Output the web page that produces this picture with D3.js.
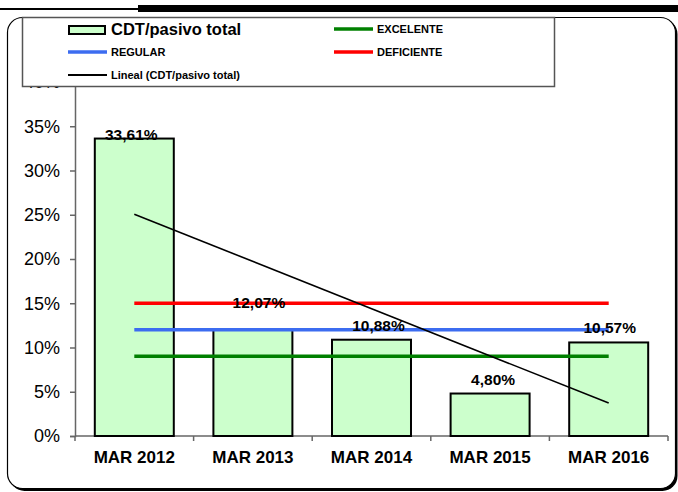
<!DOCTYPE html>
<meta charset="utf-8">
<script src="https://d3js.org/d3.v7.min.js"></script>
<style>
body { margin: 0; background: #fff; }
text { font-family: "Liberation Sans", Arial, sans-serif; fill: #000; }
</style>
<div id="chart"></div>
<script>
// data
var categories = ["MAR 2012", "MAR 2013", "MAR 2014", "MAR 2015", "MAR 2016"];
var ratio = [33.61, 12.07, 10.88, 4.80, 10.57];          // CDT/pasivo total (%)
var excelente = [9, 9, 9, 9, 9];
var regular = [12, 12, 12, 12, 12];
var deficiente = [15, 15, 15, 15, 15];
var trendEnds = [25.06, 3.72];                            // Lineal (CDT/pasivo total), first and last category
var yTicks = [0, 5, 10, 15, 20, 25, 30, 35, 40];
var labelNudge = [[-3, 10], [6, -12], [7, 0], [3, 0], [1, 0]];

var W = 678, H = 492;
var svg = d3.select("#chart").append("svg")
  .attr("width", W).attr("height", H);

// page rules at the top
svg.append("rect").attr("x", 0).attr("y", 8).attr("width", 138).attr("height", 2).attr("fill", "#000");
svg.append("rect").attr("x", 138).attr("y", 5).attr("width", W - 138).attr("height", 7).attr("fill", "#000");

// chart frame with a little shadow
svg.append("rect").attr("x", 9.5).attr("y", 19).attr("width", 668).attr("height", 472)
  .attr("rx", 15).attr("fill", "#000");
svg.append("rect").attr("x", 7.5).attr("y", 17.5).attr("width", 668).attr("height", 471)
  .attr("rx", 15).attr("fill", "#fff").attr("stroke", "#000").attr("stroke-width", 1.2);

var x = d3.scaleBand().domain(categories).range([75, 668])
  .paddingInner(0.334).paddingOuter(0.167);
var y = d3.scaleLinear().domain([0, 40]).range([436, 82]);
var cx = function(i) { return x(categories[i]) + x.bandwidth() / 2; };

// y axis
var yAxis = svg.append("g").attr("transform", "translate(75,0)")
  .call(d3.axisLeft(y).tickValues(yTicks).tickSize(5).tickPadding(10)
    .tickFormat(function(d) { return d + "%"; }));
yAxis.selectAll("text").style("font-size", "18px");
yAxis.select(".domain").attr("stroke", "#666").attr("stroke-width", 1.5);
yAxis.selectAll(".tick line").attr("stroke", "#666").attr("stroke-width", 1.5);

// x axis, ticks on category boundaries
var xAxisG = svg.append("g").attr("transform", "translate(0,436)");
xAxisG.append("line").attr("x1", 75).attr("x2", 668).attr("stroke", "#666").attr("stroke-width", 1.5);
var bounds = categories.map(function(c) { return x(c) - x.step() * 0.167; }).concat([668]);
xAxisG.selectAll(".xt").data(bounds).enter().append("line")
  .attr("x1", function(d) { return d; }).attr("x2", function(d) { return d; })
  .attr("y1", 0).attr("y2", 5).attr("stroke", "#666").attr("stroke-width", 1.5);
xAxisG.selectAll(".xl").data(categories).enter().append("text")
  .attr("x", function(d) { return x(d) + x.bandwidth() / 2; })
  .attr("y", 27).attr("text-anchor", "middle")
  .style("font-size", "17px").style("font-weight", "bold")
  .text(function(d) { return d; });

// bars
svg.selectAll(".bar").data(ratio).enter().append("rect")
  .attr("x", function(d, i) { return x(categories[i]); })
  .attr("y", function(d) { return y(d); })
  .attr("width", x.bandwidth())
  .attr("height", function(d) { return y(0) - y(d); })
  .attr("fill", "#ccffcc").attr("stroke", "#000").attr("stroke-width", 2);

// reference lines
var line = d3.line().x(function(d, i) { return cx(i); }).y(function(d) { return y(d); });
[[excelente, "#008000"], [regular, "#3c6cf0"], [deficiente, "#ff0000"]].forEach(function(s) {
  svg.append("path").attr("d", line(s[0])).attr("fill", "none")
    .attr("stroke", s[1]).attr("stroke-width", 3.5);
});

// linear trend
svg.append("line")
  .attr("x1", cx(0)).attr("y1", y(trendEnds[0]))
  .attr("x2", cx(categories.length - 1)).attr("y2", y(trendEnds[1]))
  .attr("stroke", "#000").attr("stroke-width", 1.6);

// data labels
svg.selectAll(".lbl").data(ratio).enter().append("text")
  .attr("x", function(d, i) { return cx(i) + labelNudge[i][0]; })
  .attr("y", function(d, i) { return y(d) - 9 + labelNudge[i][1]; })
  .attr("text-anchor", "middle")
  .style("font-size", "15.5px").style("font-weight", "bold")
  .text(function(d) { return d.toFixed(2).replace(".", ",") + "%"; });

// legend
var lg = svg.append("g");
lg.append("rect").attr("x", 22.5).attr("y", 17.5).attr("width", 532).attr("height", 69)
  .attr("fill", "#fff").attr("stroke", "#555").attr("stroke-width", 1.5);
lg.append("rect").attr("x", 69).attr("y", 26).attr("width", 36).attr("height", 8)
  .attr("fill", "#ccffcc").attr("stroke", "#000").attr("stroke-width", 2);
lg.append("text").attr("x", 111).attr("y", 35)
  .style("font-size", "16.5px").style("font-weight", "bold").text("CDT/pasivo total");

var legendLines = [
  {name: "EXCELENTE", color: "#008000", w: 3.5, x: 334, y: 29},
  {name: "REGULAR", color: "#3c6cf0", w: 3.5, x: 68, y: 52},
  {name: "DEFICIENTE", color: "#ff0000", w: 3.5, x: 334, y: 52},
  {name: "Lineal (CDT/pasivo total)", color: "#000", w: 1.8, x: 68, y: 75}
];
legendLines.forEach(function(l) {
  lg.append("line").attr("x1", l.x).attr("x2", l.x + 39).attr("y1", l.y).attr("y2", l.y)
    .attr("stroke", l.color).attr("stroke-width", l.w);
  lg.append("text").attr("x", l.x + 43).attr("y", l.y + 4)
    .style("font-size", "11px").style("font-weight", "bold").text(l.name);
});
</script>
